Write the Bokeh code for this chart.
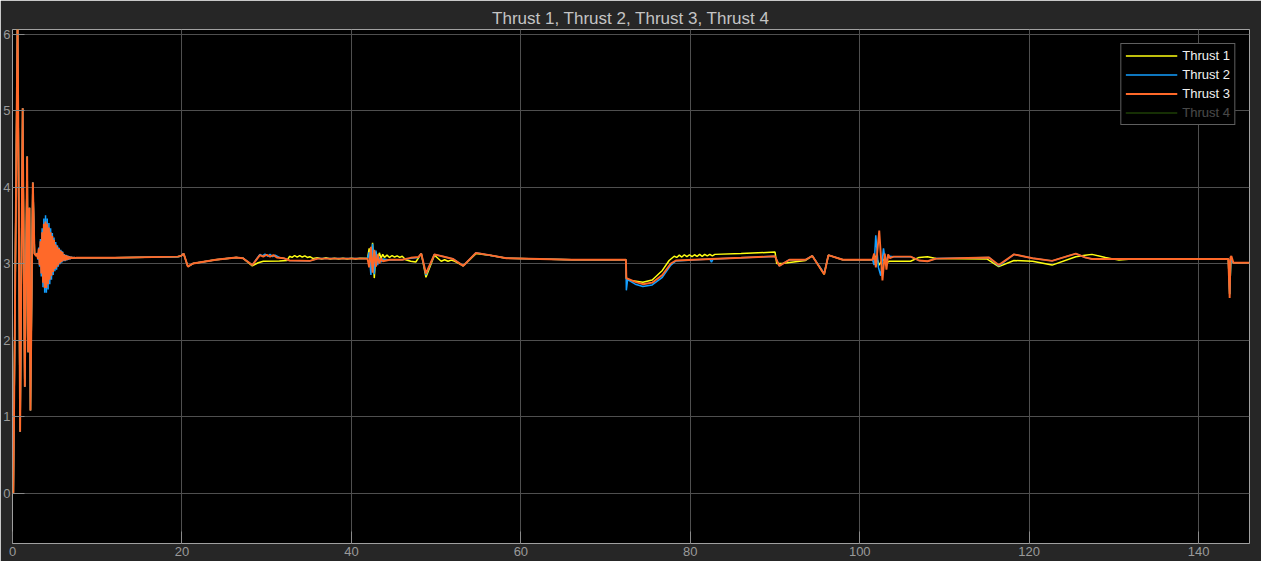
from bokeh.plotting import figure
from bokeh.models import Range1d, FixedTicker, Legend, LegendItem
from bokeh.embed import file_html
from bokeh.resources import INLINE

# ---------------- data ----------------
x_ticks = [0, 20, 40, 60, 80, 100, 120, 140]
y_ticks = [0, 1, 2, 3, 4, 5, 6]
series_names = ["Thrust 1", "Thrust 2", "Thrust 3", "Thrust 4"]

# start-up transient (all thrusts)
init_t = [0.0, 0.1, 0.6, 0.9, 1.2, 1.45, 1.73, 1.85, 2.0, 2.12, 2.4, 2.6, 2.8]
init_v = [0.0, 0.0, 6.3, 0.8, 5.03, 1.39, 4.40, 1.84, 3.73, 1.08, 4.06, 3.13, 3.10]

# ringing after start-up
ring_t = [2.9, 3.0, 3.1, 3.2, 3.3, 3.4, 3.5, 3.6, 3.7, 3.8,
          3.9, 4.0, 4.1, 4.2, 4.3, 4.4, 4.5, 4.6, 4.7, 4.8,
          4.9, 5.0, 5.1, 5.2, 5.3, 5.4, 5.5, 5.6, 5.7, 5.8,
          5.9, 6.0, 6.1, 6.2, 6.3, 6.4, 6.5, 6.6, 6.7, 6.8,
          6.9, 7.0, 7.1, 7.2, 7.3, 7.4, 7.5]
ring_1 = [3.12, 3.09, 3.14, 3.065, 3.17, 3.03, 3.21, 3.00, 3.25, 2.96,
          3.27, 2.96, 3.25, 2.98, 3.23, 3.00, 3.21, 3.01, 3.19, 3.03,
          3.18, 3.04, 3.15, 3.04, 3.14, 3.05, 3.125, 3.06, 3.115, 3.065,
          3.105, 3.07, 3.09, 3.065, 3.087, 3.067, 3.085, 3.068, 3.082, 3.07,
          3.08, 3.071, 3.079, 3.072, 3.078, 3.073, 3.075]
ring_2 = [3.14, 3.05, 3.21, 2.96, 3.32, 2.83, 3.46, 2.69, 3.59, 2.62,
          3.63, 2.62, 3.59, 2.66, 3.53, 2.73, 3.46, 2.79, 3.40, 2.85,
          3.34, 2.90, 3.28, 2.92, 3.24, 2.96, 3.205, 2.99, 3.18, 3.01,
          3.16, 3.03, 3.125, 3.03, 3.115, 3.04, 3.105, 3.05, 3.095, 3.057,
          3.09, 3.063, 3.085, 3.067, 3.081, 3.071, 3.075]
ring_3 = [3.135, 3.06, 3.195, 2.98, 3.29, 2.87, 3.41, 2.75, 3.52, 2.68,
          3.55, 2.68, 3.52, 2.73, 3.47, 2.79, 3.41, 2.84, 3.36, 2.89,
          3.31, 2.93, 3.25, 2.95, 3.22, 2.98, 3.19, 3.005, 3.165, 3.02,
          3.15, 3.04, 3.118, 3.037, 3.109, 3.045, 3.10, 3.054, 3.092, 3.06,
          3.088, 3.065, 3.083, 3.068, 3.08, 3.072, 3.075]

# rest of Thrust 1
t1_rest = [12.0, 19.5, 19.9, 20.2, 20.7, 21.3, 24.0, 26.4, 27.2, 28.3, 29.0, 29.6, 31.5, 32.4,
           32.7, 33.0, 33.3, 33.6, 33.9, 34.2, 34.5, 34.8, 35.1, 35.5, 36.0, 36.5, 37.0, 37.5,
           38.0, 38.5, 39.0, 39.5, 40.0, 40.5, 41.0, 41.9, 42.1, 42.3, 42.5, 42.7, 42.9, 43.1,
           43.3, 43.5, 43.7, 43.9, 44.2, 44.5, 44.8, 45.1, 45.4, 45.7, 46.0, 46.4, 47.0, 47.6,
           48.25, 48.8, 49.8, 50.2, 50.6, 51.0, 51.4, 51.8, 52.2, 53.2, 54.7, 56.3, 58.3, 66.0,
           72.4, 72.45, 73.0, 74.4, 75.5, 76.7, 77.5, 78.1, 78.4, 78.7, 79.0, 79.3, 79.6, 79.9,
           80.2, 80.5, 80.8, 81.1, 81.4, 81.7, 82.0, 82.3, 82.6, 82.9, 86.0, 90.0, 90.2, 91.0,
           93.6, 94.4, 95.8, 96.3, 98.0, 101.5, 101.9, 102.3, 102.7, 103.1, 103.5, 106.0, 107.0,
           108.0, 109.0, 115.0, 116.4, 118.2, 120.4, 122.7, 125.5, 126.6, 127.4, 129.0, 130.6,
           132.1, 143.5, 143.66, 143.8, 144.1, 146.0]
v1_rest = [3.075, 3.09, 3.10, 3.13, 2.96, 3.00, 3.05, 3.08, 3.07, 2.97, 3.01, 3.03, 3.035, 3.04,
           3.095, 3.08, 3.105, 3.085, 3.105, 3.085, 3.10, 3.08, 3.09, 3.065, 3.075, 3.06, 3.075, 3.06,
           3.07, 3.06, 3.07, 3.06, 3.07, 3.06, 3.07, 3.065, 3.20, 2.95, 3.27, 2.81, 3.15, 3.05,
           3.14, 3.07, 3.12, 3.08, 3.11, 3.08, 3.105, 3.085, 3.10, 3.08, 3.095, 3.05, 3.03, 3.02,
           3.13, 2.82, 3.11, 3.07, 3.03, 3.05, 3.03, 3.045, 3.03, 2.97, 3.13, 3.11, 3.07, 3.05,
           3.05, 2.80, 2.78, 2.755, 2.785, 2.91, 3.04, 3.095, 3.08, 3.11, 3.085, 3.115, 3.09, 3.115,
           3.09, 3.115, 3.095, 3.12, 3.095, 3.12, 3.10, 3.12, 3.10, 3.12, 3.13, 3.15, 3.00, 3.005,
           3.04, 3.10, 2.86, 3.11, 3.05, 3.05, 3.10, 2.98, 3.06, 3.01, 3.03, 3.03, 3.08,
           3.09, 3.065, 3.06, 2.96, 3.04, 3.03, 2.98, 3.09, 3.11, 3.12, 3.08, 3.045,
           3.06, 3.06, 2.6, 3.05, 3.01, 3.01]

# rest of Thrust 2
t2_rest = [12.0, 19.5, 19.9, 20.2, 20.7, 21.3, 24.0, 26.4, 27.2, 28.3, 29.2, 29.5, 29.8, 30.1,
           30.4, 30.7, 31.0, 31.5, 32.0, 32.7, 35.1, 36.0, 41.9, 42.1, 42.3, 42.5, 42.7, 42.9,
           43.1, 43.3, 43.5, 43.7, 44.5, 46.0, 47.0, 47.9, 48.25, 48.8, 49.8, 52.0, 53.2, 54.7,
           56.3, 58.3, 66.0, 72.4, 72.45, 72.6, 73.5, 74.4, 75.5, 76.7, 77.7, 78.3, 82.3, 82.5,
           82.7, 86.0, 90.0, 90.5, 91.7, 93.6, 94.4, 95.8, 96.3, 98.0, 101.5, 101.7, 101.89, 102.2,
           102.48, 102.8, 103.05, 103.3, 104.0, 106.0, 107.0, 108.0, 109.0, 115.25, 116.4, 118.2,
           120.4, 122.7, 125.5, 126.6, 127.4, 132.1, 143.5, 143.66, 143.8, 144.1, 146.0]
v2_rest = [3.075, 3.09, 3.10, 3.13, 2.96, 3.00, 3.05, 3.08, 3.07, 2.98, 3.12, 3.10, 3.125, 3.095,
           3.12, 3.09, 3.11, 3.08, 3.07, 3.04, 3.035, 3.065, 3.065, 3.15, 2.85, 3.26, 2.86, 3.17,
           2.98, 3.08, 3.02, 3.06, 3.045, 3.05, 3.07, 3.08, 3.13, 2.85, 3.12, 3.06, 2.97, 3.14,
           3.11, 3.07, 3.05, 3.05, 2.65, 2.79, 2.73, 2.70, 2.72, 2.82, 2.98, 3.035, 3.06, 3.02,
           3.06, 3.075, 3.095, 2.97, 3.05, 3.05, 3.10, 2.87, 3.11, 3.05, 3.05, 2.98, 3.37, 2.95,
           2.84, 3.20, 3.00, 3.10, 3.09, 3.09, 3.04, 3.03, 3.065, 3.08, 2.97, 3.12,
           3.07, 3.035, 3.13, 3.08, 3.06, 3.06, 3.06, 2.6, 3.05, 3.01, 3.01]

# rest of Thrust 3
t3_rest = [12.0, 19.5, 19.9, 20.2, 20.7, 21.3, 24.0, 26.4, 27.2, 28.3, 29.2, 29.6, 30.0, 30.4,
           30.8, 31.2, 32.0, 32.7, 35.1, 36.0, 41.9, 42.1, 42.3, 42.5, 42.7, 42.9, 43.1, 43.3,
           43.5, 43.7, 44.5, 46.0, 47.0, 47.9, 48.25, 48.8, 49.8, 52.0, 53.2, 54.7, 56.3, 58.3,
           66.0, 72.4, 72.45, 73.5, 74.4, 75.5, 76.7, 77.7, 78.3, 86.0, 90.0, 90.5, 91.7, 93.6,
           94.4, 95.8, 96.3, 98.0, 101.5, 101.7, 101.9, 102.3, 102.68, 102.95, 103.15, 103.35,
           103.55, 104.0, 106.0, 107.0, 108.0, 109.0, 115.25, 116.4, 118.2, 120.4, 122.7, 125.5,
           126.6, 127.4, 132.1, 143.5, 143.66, 143.75, 143.86, 144.1, 146.0]
v3_rest = [3.075, 3.09, 3.10, 3.13, 2.96, 3.00, 3.05, 3.08, 3.07, 2.98, 3.11, 3.09, 3.115, 3.09,
           3.11, 3.08, 3.07, 3.04, 3.035, 3.065, 3.065, 2.95, 3.22, 2.88, 3.18, 2.96, 3.12, 3.00,
           3.07, 3.03, 3.05, 3.05, 3.075, 3.085, 3.13, 2.87, 3.12, 3.06, 2.97, 3.14, 3.11, 3.07,
           3.05, 3.05, 2.81, 2.76, 2.73, 2.75, 2.85, 3.00, 3.04, 3.075, 3.095, 2.97, 3.05, 3.05,
           3.10, 2.86, 3.11, 3.05, 3.05, 3.13, 2.95, 3.43, 2.78, 3.13, 2.92, 3.12,
           3.07, 3.09, 3.09, 3.04, 3.03, 3.065, 3.08, 2.98, 3.12, 3.07, 3.035, 3.13,
           3.08, 3.06, 3.06, 3.06, 2.55, 3.08, 3.10, 3.01, 3.01]

# full series
t_1 = init_t + ring_t + t1_rest
thrust_1 = init_v + ring_1 + v1_rest
t_2 = init_t + ring_t + t2_rest
thrust_2 = init_v + ring_2 + v2_rest
t_3 = init_t + ring_t + t3_rest
thrust_3 = init_v + ring_3 + v3_rest
t_4 = list(t_2)
thrust_4 = list(thrust_2)  # hidden signal in the scope

colors = ["#FFFF11", "#139FFF", "#FF6929", "#64D413"]

# ---------------- figure ----------------
FONT = "Liberation Sans"
p = figure(width=1261, height=561, output_backend="svg", toolbar_location=None,
           x_range=Range1d(0, 146), y_range=Range1d(-0.66, 6.06),
           min_border_left=10, min_border_right=12, min_border_top=29, min_border_bottom=18)
p.background_fill_color = "black"
p.border_fill_color = "#262626"
p.outline_line_color = "#a0a0a0"
p.outline_line_width = 1

p.title.text = "Thrust 1, Thrust 2, Thrust 3, Thrust 4"
p.title.align = "center"
p.title.text_color = "#c4c4c4"
p.title.text_font = FONT
p.title.text_font_size = "17px"
p.title.text_font_style = "normal"
p.title.standoff = 4

for ax, ticks in ((p.xaxis[0], x_ticks), (p.yaxis[0], y_ticks)):
    ax.ticker = FixedTicker(ticks=ticks)
    ax.major_label_text_color = "#9a9a9a"
    ax.major_label_text_font = FONT
    ax.major_label_text_font_size = "13px"
    ax.major_tick_in = 12
    ax.major_tick_out = 0
    ax.major_tick_line_color = "#8a8a8a"
    ax.minor_tick_line_color = None
    ax.axis_line_color = None
p.xaxis[0].major_label_standoff = 3
p.yaxis[0].major_label_standoff = 2

p.xgrid.ticker = FixedTicker(ticks=x_ticks)
p.ygrid.ticker = FixedTicker(ticks=y_ticks)
p.grid.grid_line_color = "#4f4f4f"
p.grid.grid_line_width = 1

r1 = p.line(t_1, thrust_1, line_color=colors[0], line_width=1.5)
r2 = p.line(t_2, thrust_2, line_color=colors[1], line_width=1.5)
r3 = p.line(t_3, thrust_3, line_color=colors[2], line_width=1.9)
r4 = p.line(t_4, thrust_4, line_color=colors[3], line_width=1.5, visible=False)

legend = Legend(items=[LegendItem(label=n, renderers=[r]) for n, r in zip(series_names, [r1, r2, r3, r4])],
                location="top_right", margin=14, padding=4, spacing=4,
                glyph_width=52, glyph_height=15, label_height=15, label_standoff=5,
                label_text_color="#f0f0f0", label_text_font=FONT, label_text_font_size="13px",
                background_fill_color="black", background_fill_alpha=1.0,
                border_line_color="#bdbdbd", border_line_width=1,
                click_policy="hide", inactive_fill_color="black", inactive_fill_alpha=0.7)
p.add_layout(legend)

open("out.html", "w").write(file_html(p, INLINE))
